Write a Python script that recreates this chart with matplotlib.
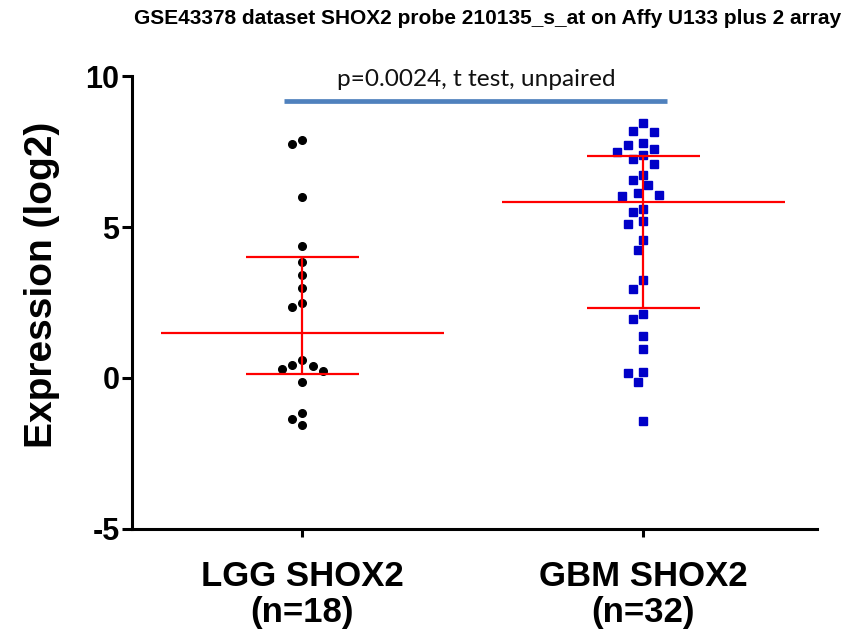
import numpy as np
import matplotlib
matplotlib.use("Agg")
import matplotlib.pyplot as plt

plt.rcParams["axes.unicode_minus"] = False

# values (log2 expression)
groups = ["LGG SHOX2\n(n=18)", "GBM SHOX2\n(n=32)"]
lgg = [7.88, 7.75, 6.00, 4.36, 3.84, 3.41, 2.97, 2.49, 2.36, 0.60, 0.41, 0.44,
       0.30, 0.24, -0.14, -1.15, -1.37, -1.55]
gbm = [8.45, 8.19, 8.15, 7.77, 7.70, 7.59, 7.48, 7.39, 7.24, 7.09, 6.73, 6.56,
       6.38, 6.14, 6.06, 6.03, 5.61, 5.49, 5.20, 5.09, 4.58, 4.24, 3.26, 2.94,
       2.13, 1.96, 1.40, 0.97, 0.18, 0.20, -0.14, -1.41]
medians = [1.48, 5.83]
q1 = [0.12, 2.33]
q3 = [4.00, 7.35]
p_text = "p=0.0024, t test, unpaired"
title = "GSE43378 dataset SHOX2 probe 210135_s_at on Affy U133 plus 2 array"

sans = ["Liberation Sans", "DejaVu Sans"]


def swarm(values, xpx=341.0, ypx=30.2, step=5.2, dmin=11.0):
    """simple beeswarm offsets (in x data units)"""
    vals = np.asarray(values)
    placed = []
    offs = np.zeros(len(vals))
    cands = [0] + [s * k for k in range(1, 12) for s in (-1, 1)]
    for i in np.argsort(vals)[::-1]:
        y = vals[i] * ypx
        for k in cands:
            x = k * step
            if all((x - px) ** 2 + (y - py) ** 2 >= dmin ** 2 for px, py in placed):
                break
        placed.append((x, y))
        offs[i] = x / xpx
    return offs


fig = plt.figure(figsize=(8.55, 6.32), dpi=100, facecolor="white")
ax = fig.add_axes([0.1544, 0.163, 0.8012, 0.7167])

pos = [1, 2]
ax.plot(pos[0] + swarm(lgg), lgg, "o", color="black", ms=5.5, zorder=3)
ax.plot(pos[1] + swarm(gbm), gbm, "s", color="#0000c8", ms=5.3, zorder=3)

for x, m, lo, hi in zip(pos, medians, q1, q3):
    ax.hlines(m, x - 0.415, x + 0.415, color="red", lw=1.6, zorder=4)
    ax.hlines([lo, hi], x - 0.166, x + 0.166, color="red", lw=1.6, zorder=4)
    ax.vlines(x, lo, hi, color="red", lw=1.6, zorder=4)

# significance bar
ax.plot([0.945, 2.07], [9.17, 9.17], color="#4f81bd", lw=3.4,
        solid_capstyle="butt", clip_on=False)
ax.text(1.51, 9.87, p_text, ha="center", va="center", fontsize=17.6,
        family=["Lato", "DejaVu Sans"], color="#111111")

ax.set_xlim(0.5, 2.51)
ax.set_ylim(-5, 10)
ax.set_yticks([-5, 0, 5, 10])
ax.set_xticks(pos)
ax.set_xticklabels(groups, fontsize=25, fontweight="bold", family=sans,
                   linespacing=1.12)
for lab in ax.get_yticklabels():
    lab.set_fontsize(22)
    lab.set_fontweight("bold")
    lab.set_family(sans)

for s in ["top", "right"]:
    ax.spines[s].set_visible(False)
for s in ["left", "bottom"]:
    ax.spines[s].set_linewidth(2.2)
ax.tick_params(axis="y", length=7, width=2.2, pad=2)
ax.tick_params(axis="x", length=6, width=2.2, pad=16)

ax.set_ylabel("Expression (log2)", fontsize=28, fontweight="bold", family=sans)
ax.yaxis.set_label_coords(-0.105, 0.54)

fig.text(0.57, 0.97, title, ha="center", va="center", fontsize=15,
         fontweight="bold", family=sans)

fig.savefig("out.png", dpi=100)
